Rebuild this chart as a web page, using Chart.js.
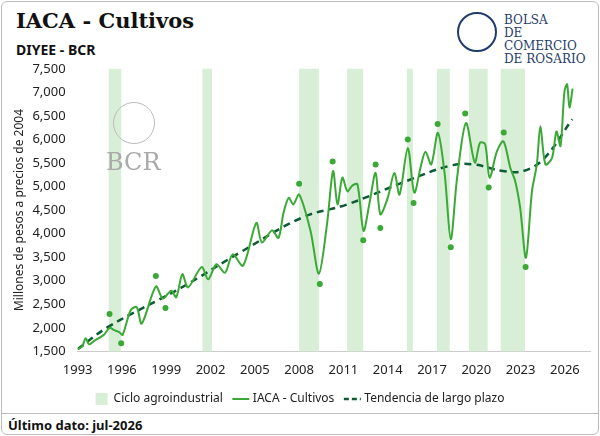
<!DOCTYPE html>
<html>
<head>
<meta charset="utf-8">
<script src="https://cdn.jsdelivr.net/npm/chart.js@4"></script>
<style>
  body { margin: 0; background: #fff; font-family: "Noto Sans", sans-serif; }
  #frame { position: absolute; left: 1px; top: 1px; width: 596px; height: 432px; border: 1px solid #bbb; border-radius: 6px; overflow: hidden; }
  #title { position: absolute; left: 14px; top: 6px; font: bold 21px "DejaVu Serif", serif; color: #111; }
  #sub { position: absolute; left: 14px; top: 38px; font: bold 14px "Noto Sans", sans-serif; color: #111; }
  #logo { position: absolute; left: 455px; top: 10px; width: 40px; height: 40px; border: 2px solid #1f3d6b; border-radius: 50%; box-sizing: border-box; }
  #logotxt { position: absolute; left: 502px; top: 12px; font: 12px/13px "DejaVu Serif", serif; color: #1f3d6b; }
  #wm { position: absolute; left: 104px; top: 146px; font: 24px "DejaVu Serif", serif; color: #aaa; z-index: 2; }
  #wmc { position: absolute; left: 111px; top: 100px; width: 40px; height: 40px; border: 1px solid #bbb; border-radius: 50%; z-index: 2; }
  #sep { position: absolute; left: 0; top: 411px; width: 596px; border-top: 1px solid #bbb; }
  #foot { position: absolute; left: 6px; top: 414px; font: bold 13px "Noto Sans", sans-serif; color: #111; }
  #wrap { position: absolute; left: 0; top: 55px; width: 596px; height: 358px; z-index: 1; }
</style>
</head>
<body>
<div id="frame">
  <div id="title">IACA - Cultivos</div>
  <div id="sub">DIYEE - BCR</div>
  <div id="logo"></div>
  <div id="logotxt">BOLSA<br>DE COMERCIO<br>DE ROSARIO</div>
  <div id="wrap"><canvas id="c"></canvas></div>
  <div id="wmc"></div>
  <div id="wm">BCR</div>
  <div id="sep"></div>
  <div id="foot">Último dato: jul-2026</div>
</div>
<script>
// IACA - Cultivos (quarterly)
const iacaYears = [1993.0,1993.3,1993.55,1993.77,1994.1,1994.8,1995.16,1995.48,1995.82,1996.04,1996.6,1997.0,1997.34,1998.3,1998.77,1999.34,1999.68,2000.09,2000.48,2001.4,2001.84,2002.4,2002.98,2003.5,2004.2,2005.1,2005.48,2006.16,2006.6,2006.95,2007.3,2007.6,2008.0,2008.77,2009.34,2009.9,2010.3,2010.6,2010.93,2011.27,2011.6,2011.95,2012.36,2012.75,2013.18,2013.5,2014.0,2014.45,2014.8,2015.36,2015.8,2016.27,2016.56,2016.95,2017.4,2017.86,2018.27,2018.7,2019.3,2019.9,2020.25,2020.6,2020.9,2021.4,2021.84,2022.3,2022.63,2022.97,2023.36,2023.77,2024.1,2024.34,2024.68,2025.13,2025.43,2025.7,2025.97,2026.15,2026.31,2026.52];
const iacaValues = [1540,1600,1780,1650,1720,1860,2000,1950,1910,1850,2380,2440,2090,2880,2620,2790,2650,3140,2860,3290,3030,3350,3170,3560,3320,4230,3810,4070,3910,4450,4760,4620,4830,4060,3150,4230,5330,4620,5190,4900,5020,5050,4060,4620,5290,4410,4760,5290,4830,5820,4870,5470,5740,5470,6140,5260,3880,5190,6350,5510,5930,5900,5190,5750,5960,5400,5120,4550,3490,4900,5470,6280,5470,5610,6170,5860,7020,7170,6680,7080];

// Long-term trend
const trendYears = [1993,1995.1,2000,2004,2008.2,2011.25,2015.3,2018.2,2019.8,2021.8,2023.2,2024.6,2026.5];
const trendValues = [1550,2026,2850,3600,4340,4620,5120,5440,5470,5330,5330,5600,6430];

// Cycle extremes (dots)
const dotYears = [1995.16,1995.95,1998.3,1998.95,2008.0,2009.4,2010.27,2012.34,2013.18,2013.5,2015.36,2015.75,2017.38,2018.27,2019.25,2020.84,2021.86,2023.34];
const dotValues = [2294,1675,3100,2420,5058,2930,5530,3860,5470,4120,6000,4650,6330,3710,6550,4980,6150,3290];

// Agro-industrial cycle bands
const bandStart = [1995.1,2001.45,2008.0,2011.25,2015.3,2017.34,2019.5,2021.65];
const bandEnd = [1995.95,2002.1,2009.34,2012.34,2015.7,2018.2,2020.77,2023.3];

const yearTicks = [1993,1996,1999,2002,2005,2008,2011,2014,2017,2020,2023,2026];

const toXY = (xs, ys) => xs.map((x, i) => ({ x: x, y: ys[i] }));

const bandPlugin = {
  id: 'bands',
  beforeDatasetsDraw(chart) {
    const { ctx, chartArea, scales } = chart;
    ctx.save();
    ctx.fillStyle = '#d8eed6';
    bandStart.forEach((s, i) => {
      const x0 = scales.x.getPixelForValue(s);
      const x1 = scales.x.getPixelForValue(bandEnd[i]);
      ctx.fillRect(x0, chartArea.top, x1 - x0, chartArea.bottom - chartArea.top);
    });
    ctx.restore();
  }
};

new Chart(document.getElementById('c'), {
  type: 'line',
  data: {
    datasets: [
      { type: 'bar', label: 'Ciclo agroindustrial', data: [], backgroundColor: '#d8eed6' },
      { label: 'IACA - Cultivos', data: toXY(iacaYears, iacaValues), borderColor: '#3aa935', borderWidth: 2, pointRadius: 0, tension: 0.3 },
      { label: 'Tendencia de largo plazo', data: toXY(trendYears, trendValues), borderColor: '#0c5c36', borderWidth: 2.5, borderDash: [7, 5], pointRadius: 0, tension: 0.4 },
      { label: 'dots', data: toXY(dotYears, dotValues), showLine: false, pointRadius: 3, pointBackgroundColor: '#3aa935', pointBorderWidth: 0 }
    ]
  },
  options: {
    responsive: true,
    maintainAspectRatio: false,
    animation: false,
    layout: { padding: { left: 8, right: 8, top: 8 } },
    plugins: {
      tooltip: { enabled: false },
      legend: {
        position: 'bottom',
        labels: {
          usePointStyle: true,
          font: { size: 12, family: 'Noto Sans' },
          color: '#222',
          boxWidth: 30,
          padding: 12,
          filter: item => item.text !== 'dots',
          generateLabels(chart) {
            const items = Chart.defaults.plugins.legend.labels.generateLabels(chart);
            items.forEach(it => {
              it.pointStyle = it.datasetIndex === 0 ? 'rect' : 'line';
              if (it.datasetIndex === 0) { it.fillStyle = '#d8eed6'; it.strokeStyle = '#d8eed6'; }
              if (it.datasetIndex === 2) it.lineDash = [5, 3];
            });
            return items;
          }
        }
      }
    },
    scales: {
      x: {
        type: 'linear',
        offset: false,
        min: 1993,
        max: 2027.7,
        afterBuildTicks: axis => { axis.ticks = yearTicks.map(v => ({ value: v })); },
        grid: { display: false, drawTicks: true },
        border: { color: '#ccc' },
        ticks: { color: '#222', font: { size: 13, family: 'Noto Sans' }, callback: v => String(v) }
      },
      y: {
        min: 1500,
        max: 7500,
        ticks: { stepSize: 500, padding: 4, color: '#222', font: { size: 13, family: 'Noto Sans' }, callback: v => v.toLocaleString('en-US') },
        grid: { display: false },
        border: { display: false },
        title: { display: true, padding: 2, text: 'Millones de pesos a precios de 2004', color: '#222', font: { size: 12, family: 'Noto Sans' } }
      }
    }
  },
  plugins: [bandPlugin]
});
</script>
</body>
</html>
